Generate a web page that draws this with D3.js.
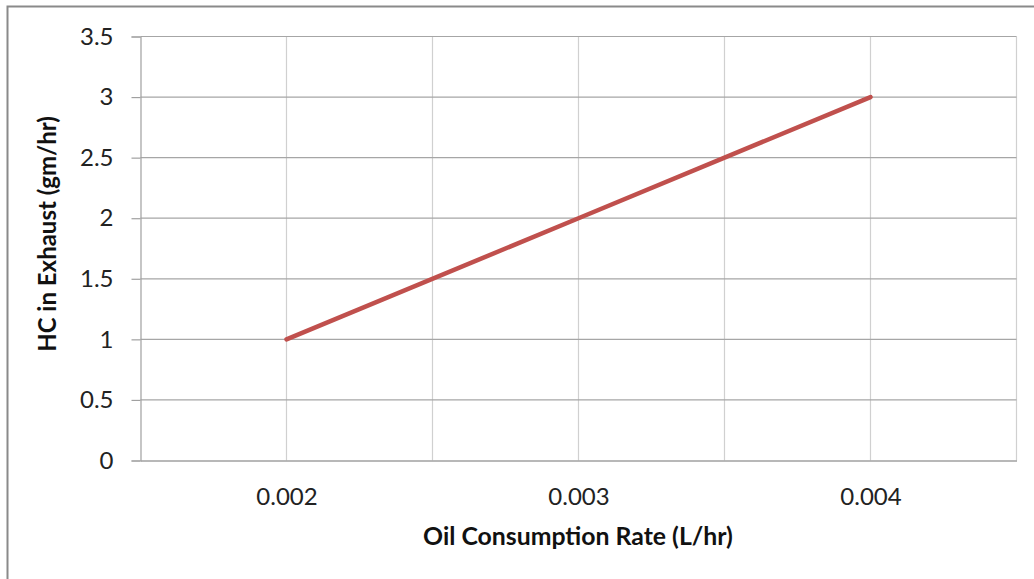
<!DOCTYPE html>
<html><head><meta charset="utf-8">
<script src="https://cdn.jsdelivr.net/npm/d3@7"></script>
<style>body{margin:0;background:#fff;}svg{display:block;font-family:Lato,"Open Sans",sans-serif;}</style>
</head><body>
<script>
const oilRate = [0.002, 0.003, 0.004];
const hcExhaust = [1, 2, 3];
const xTickLabels = [0.002, 0.003, 0.004];
const xGridValues = [0.0015, 0.002, 0.0025, 0.003, 0.0035, 0.004, 0.0045];
const yTickValues = [0, 0.5, 1, 1.5, 2, 2.5, 3, 3.5];
const xTitle = "Oil Consumption Rate (L/hr)";
const yTitle = "HC in Exhaust (gm/hr)";

const W = 1034, H = 579;
const svg = d3.select("body").append("svg").attr("width", W).attr("height", H);

// outer frame
svg.append("path").attr("d", `M7.5,${H} V6.5 H${W}`).attr("fill","none").attr("stroke","#8a8a8a").attr("stroke-width",2);

const x = d3.scaleLinear().domain([0.0015, 0.0045]).range([140.5, 1016.5]);
const y = d3.scaleLinear().domain([0, 3.5]).range([460.5, 36.5]);

// vertical gridlines
svg.append("g").selectAll("line").data(xGridValues.slice(1)).join("line")
  .attr("x1", d => x(d)).attr("x2", d => x(d)).attr("y1", y(3.5)).attr("y2", y(0))
  .attr("stroke", "#d0d0d0").attr("stroke-width", 1.2);

// horizontal gridlines
svg.append("g").selectAll("line").data(yTickValues.slice(1)).join("line")
  .attr("x1", x(0.0015)).attr("x2", x(0.0045)).attr("y1", d => y(d)).attr("y2", d => y(d))
  .attr("stroke", "#a6a6a6").attr("stroke-width", 1.2);

// y axis
const yAxis = d3.axisLeft(y).tickValues(yTickValues).tickSize(9).tickPadding(18).tickFormat(d => String(d));
const gy = svg.append("g").attr("transform", `translate(${x(0.0015)},0)`).call(yAxis);
gy.select(".domain").attr("stroke", "#a0a0a0").attr("stroke-width", 1.2);
gy.selectAll(".tick line").attr("stroke", "#a0a0a0").attr("stroke-width", 1.2);
gy.selectAll("text").attr("font-size", 24).attr("fill", "#222").attr("font-family", "Lato, 'Open Sans', sans-serif");

// x axis
const xAxis = d3.axisBottom(x).tickValues(xTickLabels).tickSize(0).tickPadding(27).tickFormat(d3.format(".3f"));
const gx = svg.append("g").attr("transform", `translate(0,${y(0)})`).call(xAxis);
gx.select(".domain").attr("stroke", "#a0a0a0").attr("stroke-width", 1.5);
gx.selectAll("text").attr("font-size", 24).attr("fill", "#222").attr("font-family", "Lato, 'Open Sans', sans-serif");

// data line
const pts = oilRate.map((v, i) => [v, hcExhaust[i]]);
svg.append("path").datum(pts)
  .attr("d", d3.line().x(d => x(d[0])).y(d => y(d[1])))
  .attr("fill", "none").attr("stroke", "#c0504d").attr("stroke-width", 4.5).attr("stroke-linecap", "round");

// titles
svg.append("text").attr("x", 578).attr("y", 545).attr("text-anchor", "middle")
  .attr("font-size", 24.8).attr("font-weight", "bold").attr("fill", "#111").text(xTitle);
svg.append("text").attr("transform", `translate(56,234) rotate(-90)`).attr("text-anchor", "middle")
  .attr("font-size", 24).attr("font-weight", "bold").attr("fill", "#111").text(yTitle);
</script>
</body></html>
